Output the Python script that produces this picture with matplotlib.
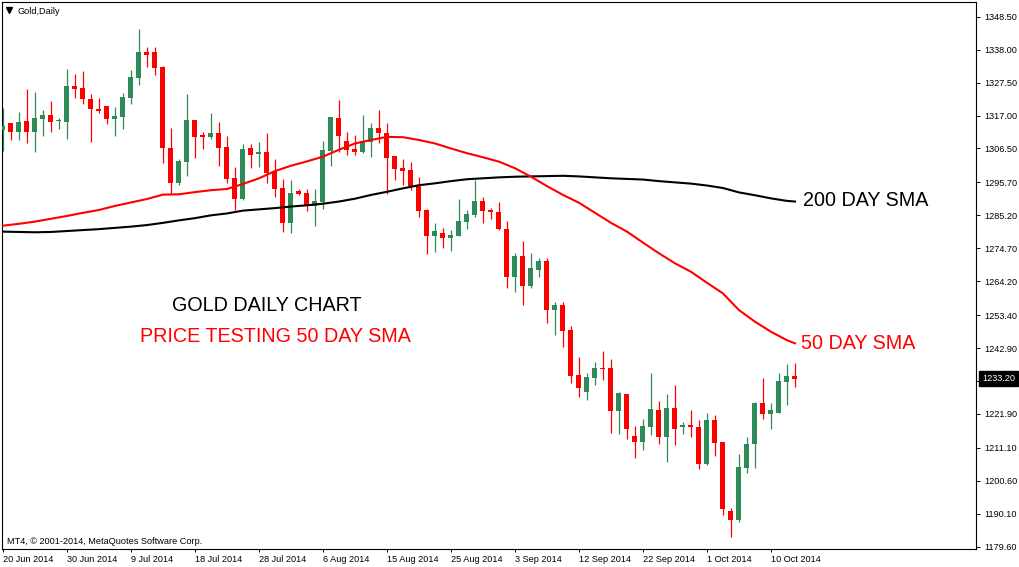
import numpy as np
import matplotlib.pyplot as plt

# Gold daily candles, 20 Jun 2014 - 14 Oct 2014 (MT4 includes Sunday bars)
opens = [1312.4, 1314.6, 1311.8, 1315.3, 1311.8, 1315.9, 1317.2, 1315.3, 1314.9, 1326.4,
         1325.8, 1322.3, 1319.1, 1320.0, 1315.9, 1316.5, 1322.6, 1329.0, 1337.3, 1337.3,
         1332.5, 1306.7, 1295.5, 1302.2, 1315.6, 1310.8, 1310.2, 1311.4, 1307.0, 1297.1,
         1290.4, 1306.7, 1304.7, 1305.4, 1299.3, 1293.9, 1282.8, 1293.0, 1292.3, 1288.2,
         1289.5, 1305.7, 1316.2, 1308.9, 1306.3, 1305.4, 1308.6, 1313.0, 1311.4, 1304.1,
         1300.3, 1299.6, 1294.9, 1286.9, 1278.6, 1279.6, 1278.0, 1278.6, 1283.1, 1285.3,
         1289.8, 1286.9, 1286.3, 1280.8, 1265.5, 1272.2, 1262.7, 1267.8, 1270.6, 1255.0,
         1256.6, 1248.7, 1234.3, 1228.9, 1233.4, 1236.6, 1236.6, 1222.8, 1228.3, 1214.9,
         1213.0, 1217.7, 1223.2, 1214.6, 1223.8, 1217.7, 1218.4, 1217.7, 1206.0, 1220.0,
         1213.0, 1191.0, 1188.1, 1204.7, 1212.3, 1225.4, 1221.9, 1222.2, 1232.1, 1234.0]
highs = [1319.4, 1314.6, 1318.1, 1325.5, 1324.5, 1318.8, 1321.6, 1316.2, 1331.8, 1330.2,
         1331.2, 1323.9, 1322.6, 1320.0, 1319.7, 1324.2, 1331.5, 1344.6, 1338.8, 1338.8,
         1332.8, 1313.0, 1303.2, 1323.9, 1315.6, 1311.8, 1317.8, 1314.9, 1310.5, 1300.6,
         1307.9, 1307.9, 1308.6, 1311.4, 1303.2, 1296.8, 1296.5, 1293.6, 1293.6, 1293.6,
         1308.9, 1316.5, 1321.9, 1311.8, 1310.8, 1317.2, 1314.6, 1318.8, 1314.6, 1304.1,
         1303.2, 1302.2, 1297.4, 1287.2, 1282.8, 1281.2, 1280.5, 1290.4, 1286.9, 1296.5,
         1291.0, 1287.5, 1289.5, 1283.4, 1273.2, 1277.0, 1273.2, 1271.6, 1271.6, 1257.6,
         1257.6, 1249.9, 1240.1, 1235.0, 1238.5, 1242.0, 1239.4, 1228.9, 1228.3, 1218.1,
         1220.3, 1235.0, 1226.0, 1228.3, 1231.1, 1219.3, 1223.2, 1220.0, 1222.2, 1221.6,
         1213.0, 1191.9, 1209.1, 1214.6, 1225.7, 1233.4, 1225.4, 1235.0, 1237.8, 1238.1]
lows = [1305.7, 1309.2, 1309.2, 1308.3, 1305.4, 1310.5, 1311.8, 1312.7, 1309.5, 1322.6,
        1320.7, 1308.6, 1317.8, 1314.3, 1310.5, 1312.7, 1320.7, 1326.7, 1332.5, 1329.9,
        1301.9, 1292.0, 1294.9, 1297.7, 1303.5, 1306.3, 1309.5, 1300.9, 1295.5, 1286.9,
        1290.1, 1300.3, 1300.6, 1295.5, 1291.0, 1279.9, 1279.6, 1291.7, 1286.6, 1281.8,
        1287.2, 1300.9, 1305.4, 1304.4, 1304.4, 1305.1, 1303.8, 1308.3, 1292.0, 1296.5,
        1294.9, 1293.3, 1284.7, 1272.9, 1273.5, 1274.8, 1273.8, 1278.6, 1280.8, 1284.7,
        1282.8, 1284.0, 1280.5, 1262.0, 1260.8, 1256.6, 1262.0, 1265.5, 1250.9, 1247.1,
        1243.2, 1231.8, 1227.3, 1226.4, 1231.1, 1232.7, 1215.8, 1215.5, 1213.9, 1207.9,
        1210.4, 1215.2, 1212.3, 1206.6, 1212.0, 1215.5, 1214.6, 1204.4, 1205.6, 1208.5,
        1189.7, 1182.7, 1187.5, 1203.1, 1204.7, 1220.3, 1217.1, 1222.2, 1224.8, 1230.5]
closes = [1313.7, 1311.8, 1314.9, 1311.8, 1316.2, 1317.2, 1314.9, 1315.6, 1326.4, 1325.5,
          1322.3, 1319.1, 1318.5, 1315.9, 1316.9, 1322.9, 1329.3, 1337.3, 1336.3, 1332.2,
          1306.7, 1295.5, 1302.5, 1315.6, 1310.2, 1310.2, 1311.4, 1306.7, 1296.8, 1290.4,
          1306.3, 1304.4, 1305.4, 1298.7, 1293.6, 1282.8, 1292.3, 1292.0, 1288.2, 1289.8,
          1306.0, 1316.5, 1310.5, 1306.0, 1305.4, 1308.9, 1313.0, 1311.4, 1303.5, 1300.0,
          1299.3, 1294.5, 1286.6, 1278.6, 1280.2, 1278.0, 1278.9, 1283.4, 1285.6, 1289.8,
          1286.6, 1286.3, 1280.8, 1265.5, 1272.2, 1262.7, 1268.4, 1270.6, 1255.0, 1256.6,
          1248.3, 1234.0, 1230.2, 1233.7, 1236.6, 1236.3, 1222.8, 1228.6, 1217.1, 1213.0,
          1218.1, 1223.5, 1214.6, 1223.8, 1217.1, 1218.4, 1217.7, 1206.0, 1220.0, 1212.6,
          1191.6, 1188.1, 1205.0, 1212.3, 1225.4, 1221.9, 1223.2, 1232.4, 1234.0, 1233.2]

# moving averages every 2 bars
ma_bars = list(range(0, 100, 2)) + [99]
sma50 = [1281.9, 1282.5, 1283.2, 1284.1, 1285.0, 1286.0, 1286.9, 1288.2, 1289.3, 1290.4,
         1291.8, 1291.9, 1292.6, 1293.2, 1293.6, 1295.2, 1297.0, 1299.3, 1301.0, 1302.4,
         1303.9, 1306.1, 1308.1, 1309.2, 1310.2, 1310.1, 1309.2, 1308.1, 1306.5, 1305.0,
         1303.7, 1302.3, 1300.2, 1297.5, 1294.5, 1291.7, 1289.2, 1286.0, 1282.8, 1280.0,
         1276.5, 1273.1, 1269.9, 1267.2, 1263.7, 1260.3, 1255.0, 1251.3, 1248.1, 1245.4,
         1244.4]
sma200 = [1280.0, 1279.9, 1279.8, 1279.9, 1280.2, 1280.5, 1280.8, 1281.2, 1281.6, 1282.1,
          1282.8, 1283.6, 1284.3, 1285.2, 1285.8, 1286.7, 1287.1, 1287.5, 1288.0, 1288.4,
          1288.9, 1289.6, 1290.5, 1291.7, 1292.7, 1293.8, 1294.8, 1295.4, 1296.1, 1296.7,
          1297.0, 1297.3, 1297.5, 1297.6, 1297.7, 1297.8, 1297.6, 1297.3, 1297.0, 1296.8,
          1296.6, 1296.1, 1295.7, 1295.3, 1294.7, 1293.9, 1292.5, 1291.6, 1290.6, 1289.8,
          1289.6]

date_ticks = [0, 8, 16, 24, 32, 40, 48, 56, 64, 72, 80, 88, 96]
date_labels = ["20 Jun 2014", "30 Jun 2014", "9 Jul 2014", "18 Jul 2014", "28 Jul 2014",
               "6 Aug 2014", "15 Aug 2014", "25 Aug 2014", "3 Sep 2014", "12 Sep 2014",
               "22 Sep 2014", "1 Oct 2014", "10 Oct 2014"]
price_ticks = [1348.50, 1338.00, 1327.50, 1317.00, 1306.50, 1295.70, 1285.20, 1274.70,
               1264.20, 1253.40, 1242.90, 1232.40, 1221.90, 1211.10, 1200.60, 1190.10,
               1179.60]
last_price = 1233.20

plt.rcParams['font.family'] = ['Liberation Sans', 'DejaVu Sans']
GREEN = "#2E8B57"
RED = "#FF0000"

W, H = 1020, 567
fig = plt.figure(figsize=(W / 100, H / 100), dpi=100)
ax = fig.add_axes([2 / W, 18 / H, 974 / W, 547 / H])

x = np.arange(len(opens))
o = np.array(opens)
c = np.array(closes)
colors = [GREEN if cc >= oo else RED for oo, cc in zip(o, c)]

ax.vlines(x, lows, highs, colors=colors, linewidth=0.9, zorder=2)
bottoms = np.minimum(o, c)
heights = np.maximum(np.abs(c - o), 0.35)
ax.bar(x, heights, bottom=bottoms, width=0.625, color=colors, linewidth=0, zorder=3)

ax.plot(ma_bars, sma200, color="black", linewidth=1.5, zorder=4)
ax.plot(ma_bars, sma50, color=RED, linewidth=1.5, zorder=4)

ax.set_xlim(-0.125, 121.625)
ax.set_ylim(1178.87, 1353.18)

ax.set_xticks(date_ticks)
ax.set_xticklabels(date_labels, ha="left", fontsize=6.6)
ax.yaxis.tick_right()
ax.set_yticks(price_ticks)
# the tick right under the current price is covered by the price box
ax.set_yticklabels(["" if abs(p - last_price) < 2 else f"{p:.2f}" for p in price_ticks],
                   fontsize=6.6)
ax.tick_params(axis="x", direction="out", length=2.5, width=0.7, pad=1.5)
ax.tick_params(axis="y", direction="out", length=3, width=0.7, pad=3)
for s in ax.spines.values():
    s.set_linewidth(0.8)

# annotations
ax.text(100, 1289.8, "200 DAY SMA", fontsize=14.2, color="black", va="center", ha="left")
ax.text(99.75, 1244.2, "50 DAY SMA", fontsize=14.2, color=RED, va="center", ha="left")
ax.text(33, 1256.6, "GOLD DAILY CHART", fontsize=14.2, color="black", va="center", ha="center")
ax.text(34, 1246.7, "PRICE TESTING 50 DAY SMA", fontsize=14.2, color=RED, va="center", ha="center")

ax.plot([0.0077], [0.9845], marker="v", markersize=4, color="black",
        transform=ax.transAxes, clip_on=False)
ax.text(0.0164, 0.9835, "Gold,Daily", fontsize=6.6, va="center", ha="left",
        transform=ax.transAxes)
ax.text(0.0051, 0.0146, "MT4, \u00a9 2001-2014, MetaQuotes Software Corp.", fontsize=6.6,
        va="center", ha="left", transform=ax.transAxes)

# current price marker on the price scale
ax.text(1 + 6 / 974, last_price, f"{last_price:.2f}", fontsize=6.6, color="white",
        va="center", ha="left", transform=ax.get_yaxis_transform(), zorder=10,
        bbox=dict(boxstyle="square,pad=0.3", fc="black", ec="black"))

fig.savefig("out.png", dpi=100, facecolor="white")
